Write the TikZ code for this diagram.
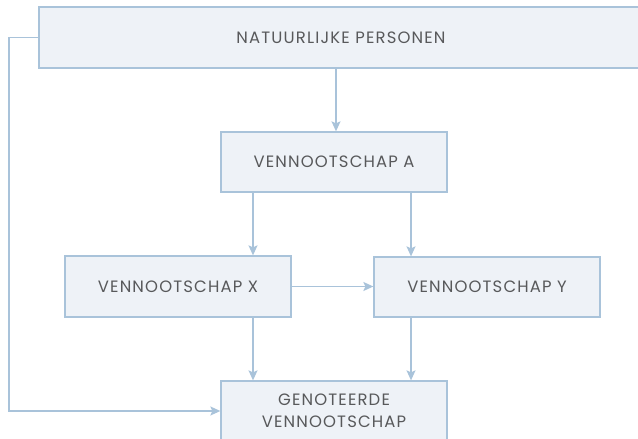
\documentclass[tikz,border=0pt]{standalone}
\usepackage{fontspec}
\setmainfont{Poppins}[LetterSpace=7]
\usetikzlibrary{arrows.meta,calc}
\definecolor{boxfill}{HTML}{EEF2F7}
\definecolor{boxline}{HTML}{A9C3DA}
\definecolor{txt}{HTML}{58595B}
\tikzset{
  ent/.style={draw=boxline, fill=boxfill, line width=1.3bp, text=txt,
    font=\fontsize{16.5}{22}\selectfont, align=center, inner sep=0pt},
  arr/.style={draw=boxline, line width=1.3bp, -{Stealth[length=10bp,width=9bp,inset=2bp]}}
}
\begin{document}
\begin{tikzpicture}[x=1bp,y=-1bp]
\useasboundingbox (0,0) rectangle (638,439);
\clip (0,0) rectangle (638,439);
\node[ent, minimum width=604bp, minimum height=61bp] (top) at (341,37.5) {NATUURLIJKE PERSONEN};
\node[ent, minimum width=226bp, minimum height=60bp] (A) at (334,162) {VENNOOTSCHAP A};
\node[ent, minimum width=226bp, minimum height=61bp] (X) at (178,286.5) {VENNOOTSCHAP X};
\node[ent, minimum width=226bp, minimum height=60bp] (Y) at (487,287) {VENNOOTSCHAP Y};
\node[ent, minimum width=226bp, minimum height=60bp] (G) at (334,411) {GENOTEERDE\\VENNOOTSCHAP};
\coordinate (L) at (9,0);
\draw[arr] ([xshift=2bp]A.north |- top.south) -- ([xshift=2bp]A.north);
\draw[arr] ([xshift=-81bp]A.south) -- ([xshift=-81bp]A.south |- X.north);
\draw[arr] ([xshift=77bp]A.south) -- ([xshift=77bp]A.south |- Y.north);
\draw[arr] (X.east) -- (X.east -| Y.west);
\draw[arr] ([xshift=75bp]X.south) -- ([xshift=75bp]X.south |- G.north);
\draw[arr] ([xshift=-76bp]Y.south) -- ([xshift=-76bp]Y.south |- G.north);
\draw[arr] (top.west) -- (top.west -| L) -- (L |- G.west) -- (G.west);
\end{tikzpicture}
\end{document}
